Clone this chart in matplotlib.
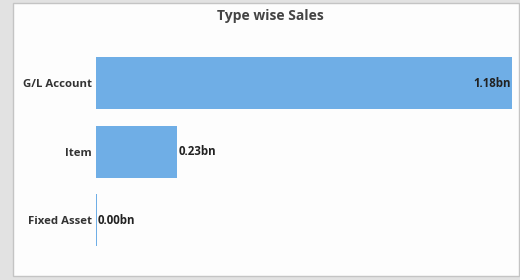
import matplotlib
matplotlib.use("Agg")
import matplotlib.pyplot as plt
from matplotlib.patches import Rectangle

categories = ["G/L Account", "Item", "Fixed Asset"]
sales_bn = [1.18, 0.23, 0.002]
labels = ["1.18bn", "0.23bn", "0.00bn"]

plt.rcParams["font.family"] = ["Open Sans", "DejaVu Sans"]

fig = plt.figure(figsize=(5.2, 2.8), dpi=100)
fig.patch.set_facecolor("#e2e2e2")

# card background in a full-figure axes underneath
bg = fig.add_axes([0, 0, 1, 1], zorder=-1)
bg.set_axis_off()
bg.set_xlim(0, 520)
bg.set_ylim(280, 0)
bg.add_patch(Rectangle((13, 3), 506, 273, facecolor="#fdfdfd",
                       edgecolor="#c4c4c4", linewidth=1.0))
bg.text(270, 16, "Type wise Sales", ha="center", va="center",
        fontsize=10, fontweight="bold", color="#444444")

ax = fig.add_axes([96 / 520, 18 / 280, 416 / 520, 217 / 280])
ax.set_facecolor("none")
y = list(range(len(categories)))
ax.barh(y, sales_bn, height=0.76, color="#6faee6")
ax.set_xlim(0, 1.18)
ax.set_ylim(2.61, -0.555)
ax.set_yticks(y)
ax.set_yticklabels(categories, fontsize=8.2, fontweight="bold", color="#333333")
ax.tick_params(axis="y", length=0, pad=3)
ax.set_xticks([])
for s in ax.spines.values():
    s.set_visible(False)

for i, (v, t) in enumerate(zip(sales_bn, labels)):
    if v > 1.0:
        ax.text(v - 0.002, i, t, ha="right", va="center", fontsize=8.3,
                fontweight="bold", color="#222222")
    else:
        ax.text(v + 0.004, i, t, ha="left", va="center", fontsize=8.3,
                fontweight="bold", color="#222222")

fig.savefig("out.png", dpi=100, facecolor=fig.get_facecolor())
